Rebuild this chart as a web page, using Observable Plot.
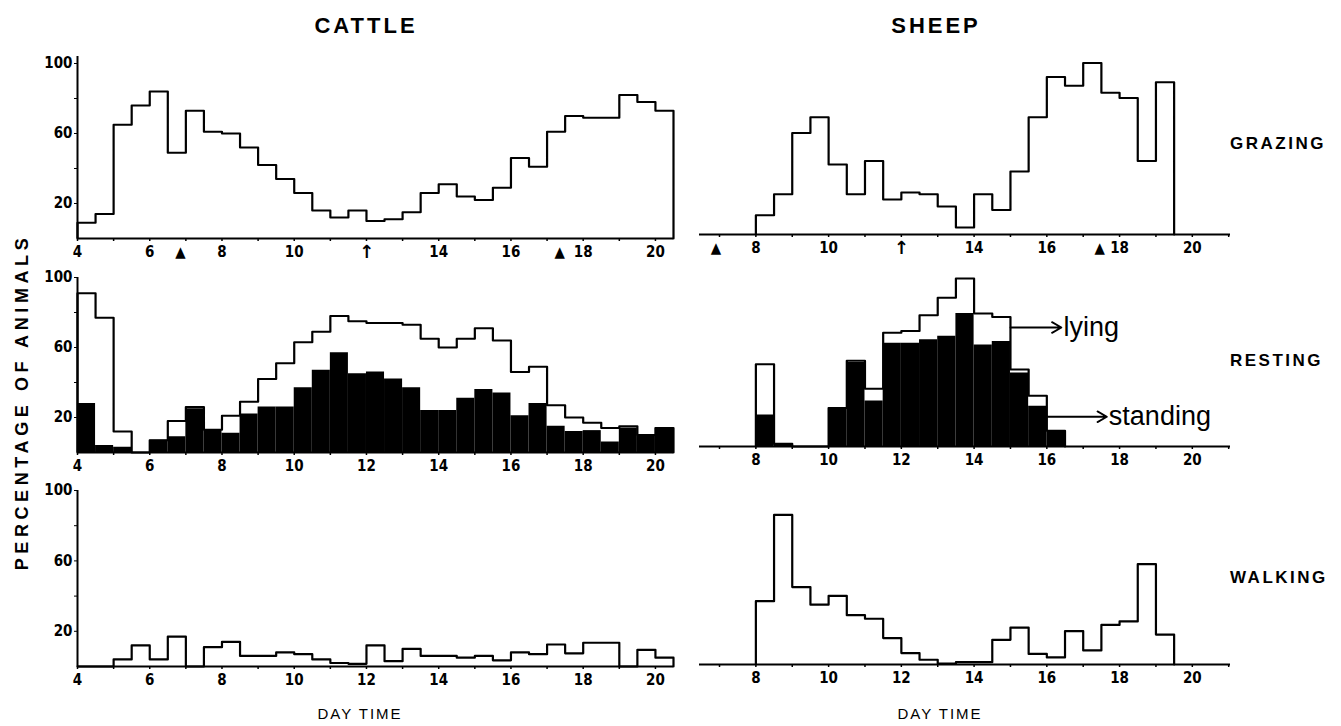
<!DOCTYPE html>
<html><head><meta charset="utf-8">
<script src="https://cdn.jsdelivr.net/npm/d3@7"></script>
<script src="https://cdn.jsdelivr.net/npm/@observablehq/plot@0.6"></script>
<style>
body{margin:0;background:#fff;}
#fig{position:relative;width:1341px;height:726px;overflow:hidden;background:#fff;font-family:"Liberation Sans",Arial,sans-serif;color:#000;}
.panel{position:absolute;}
.lbl{position:absolute;white-space:nowrap;color:#000;line-height:1;}
.title{font-weight:bold;font-size:22px;letter-spacing:3px;transform:translate(-50%,-50%);}
.row{font-weight:bold;font-size:17px;letter-spacing:2.5px;transform:translateY(-50%);}
.xl{font-size:15px;letter-spacing:2px;transform:translate(-50%,-50%);}
.yl{font-weight:bold;font-size:18px;letter-spacing:4.6px;transform:translate(-50%,-50%) rotate(-90deg);}
</style></head>
<body><div id="fig"></div>
<script>
// ---- data (percentage of animals, half-hour bins) ----
const binWidth = 0.5;
const cattleStart = 4;
const sheepStart = 8;
const cattleGrazing = [9,14,65,76,84,49,73,61,60,52,42,34,26,16,12,16,10,11,15,26,31,24,22,29,46,41,61,70,69,69,82,78,73];
const sheepGrazing = [11,23,58,67,40,23,42,20,24,23,16,4,23,14,36,67,90,85,98,81,78,42,87];
const cattleRestingTotal = [91,77,12,0,7,18,26,13,21,29,42,51,63,69,78,75,74,74,73,65,60,65,71,64,46,49,27,20,17,14,15,10,14];
const cattleRestingDark = [28,4,3,0,7,9,25,13,11,22,26,26,37,47,57,45,46,42,37,24,24,31,36,34,21,28,15,12,12.5,6,14,10,14];
const sheepRestingTotal = [47,1.5,0,0,22,49,33,65,66,75,85,96,76,74,44,29,9];
const sheepRestingDark = [18,1.5,0,0,22,48,26,59,59,61,63,76,58,60,42,23,9];
const cattleWalking = [0,0,4,12,4,17,0,11,14,6,6,8,7,4,2,1.5,12,3,10,6,6,5,6,3.5,8,7,12.5,7.5,13.5,13.5,0,9.5,5];
const sheepWalking = [36,85,44,34,39,28,26,15,6.5,2.7,0.5,1.3,1.3,14,21,6,4,19,8,22.5,24.5,57,17];

// axes
const cattleDomain = [4, 20.5];
const sheepDomain = [6.45, 21.05];
const cattleTickHours = d3.range(4, 21);
const sheepTickHours = d3.range(7, 22);
const cattleLabels = [4,6,8,10,12,14,16,18,20];
const cattleGrazingLabels = [4,6,8,10,14,16,18,20];
const sheepLabels = [8,10,12,14,16,18,20];
const sheepGrazingLabels = [8,10,14,16,18,20];
const yTicks = [20,40,60,80,100];
const yLabels = [20,60,100];
const cattleSunMarks = [6.85, 17.35];
const sheepSunMarks = [6.9, 17.45];
const noonMark = [12];
const sheepRestingNotes = [
  {label:"lying", from:15.0, to:16.4, at:68},
  {label:"standing", from:16.0, to:17.65, at:17}
];

// ---- helpers ----
function bins(start, vals){ return vals.map((v,i)=>({x1:start+i*binWidth, x2:start+(i+1)*binWidth, v})); }
function steps(start, vals){
  const pts=[{x:start,y:0}];
  vals.forEach((v,i)=>pts.push({x:start+i*binWidth,y:v}));
  const end=start+vals.length*binWidth;
  pts.push({x:end,y:vals[vals.length-1]});
  pts.push({x:end,y:0});
  return pts;
}
const FONT = '"DejaVu Sans Condensed","Liberation Sans Narrow",sans-serif';

function makePanel(cfg){
  const marks=[];
  if(cfg.dark) marks.push(Plot.rect(bins(cfg.start,cfg.dark),{x1:"x1",x2:"x2",y1:()=>0,y2:"v",fill:"black"}));
  marks.push(Plot.line(steps(cfg.start,cfg.vals),{x:"x",y:"y",curve:"step-after",stroke:"black",strokeWidth:2.2}));
  marks.push(Plot.ruleY([0],{x1:()=>cfg.domain[0],x2:()=>cfg.domain[1],stroke:"black",strokeWidth:2.2}));
  marks.push(Plot.axisX(cfg.tickHours,{label:null,tickFormat:d=>cfg.labels.includes(d)?String(d):"",tickSize:3,tickPadding:5,fontSize:15,fontWeight:"bold",fontFamily:FONT,strokeWidth:1.5}));
  if(cfg.yAxis){
    marks.push(Plot.ruleX([cfg.domain[0]],{y1:()=>0,y2:()=>cfg.yTop,stroke:"black",strokeWidth:2}));
    marks.push(Plot.axisY(yTicks,{label:null,tickFormat:d=>yLabels.includes(d)?String(d):"",tickSize:3,tickPadding:2,fontSize:15,fontWeight:"bold",fontFamily:FONT}));
  }
  if(cfg.sun){
    marks.push(Plot.text(cfg.sun,{x:d=>d,y:()=>0,text:()=>"▲",dy:14,fontSize:15,fontFamily:"DejaVu Sans Condensed"}));
    marks.push(Plot.text(noonMark,{x:d=>d,y:()=>0,text:()=>"↑",dy:14,fontSize:18,fontWeight:"bold",fontFamily:"DejaVu Sans"}));
  }
  if(cfg.notes){
    marks.push(Plot.arrow(cfg.notes,{x1:"from",x2:"to",y1:"at",y2:"at",stroke:"black",strokeWidth:1.8,headLength:9}));
    marks.push(Plot.text(cfg.notes,{x:"to",y:"at",text:"label",dx:2,textAnchor:"start",fontSize:27,fontFamily:"Liberation Sans, sans-serif"}));
  }
  const p = Plot.plot({
    width:cfg.width,height:cfg.height,
    marginLeft:cfg.ml,marginRight:cfg.mr,marginTop:cfg.mt,marginBottom:cfg.mb,
    x:{domain:cfg.domain},
    y:{domain:[0,100],axis:cfg.yAxis?undefined:null},
    style:{background:"transparent",color:"black",fontFamily:FONT,overflow:"visible"},
    marks
  });
  p.classList.add("panel");
  p.style.left=cfg.left+"px";
  p.style.top=cfg.top+"px";
  p.style.maxWidth="none";
  document.getElementById("fig").appendChild(p);
}

const cattleBase = {left:0,width:700,ml:77,mr:27,domain:cattleDomain,tickHours:cattleTickHours,start:cattleStart,yAxis:true};
const sheepBase = {left:680,width:600,ml:19,mr:50,domain:sheepDomain,tickHours:sheepTickHours,start:sheepStart,yAxis:false};

// grazing row
makePanel({...cattleBase,top:40,height:230,mt:23,mb:32,vals:cattleGrazing,labels:cattleGrazingLabels,sun:cattleSunMarks,yTop:104});
makePanel({...sheepBase,top:36,height:230,mt:23,mb:32,vals:sheepGrazing,labels:sheepGrazingLabels,sun:sheepSunMarks});
// resting row
makePanel({...cattleBase,top:250,height:235,mt:27,mb:33,vals:cattleRestingTotal,dark:cattleRestingDark,labels:cattleLabels,yTop:100});
makePanel({...sheepBase,top:244,height:235,mt:27,mb:33,vals:sheepRestingTotal,dark:sheepRestingDark,labels:sheepLabels,notes:sheepRestingNotes});
// walking row
makePanel({...cattleBase,top:465,height:235,mt:25,mb:34,vals:cattleWalking,labels:cattleLabels,yTop:100});
makePanel({...sheepBase,top:463,height:235,mt:25,mb:34,vals:sheepWalking,labels:sheepLabels});

// text labels
const fig=document.getElementById("fig");
function addLabel(text,cls,x,y){const d=document.createElement("div");d.className="lbl "+cls;d.textContent=text;d.style.left=x+"px";d.style.top=y+"px";fig.appendChild(d);}
addLabel("CATTLE","title",366,26);
addLabel("SHEEP","title",936,26);
addLabel("GRAZING","row",1230,143);
addLabel("RESTING","row",1230,360);
addLabel("WALKING","row",1230,577);
addLabel("PERCENTAGE OF ANIMALS","yl",22,402);
addLabel("DAY TIME","xl",360,713);
addLabel("DAY TIME","xl",940,713);
</script>
</body></html>
